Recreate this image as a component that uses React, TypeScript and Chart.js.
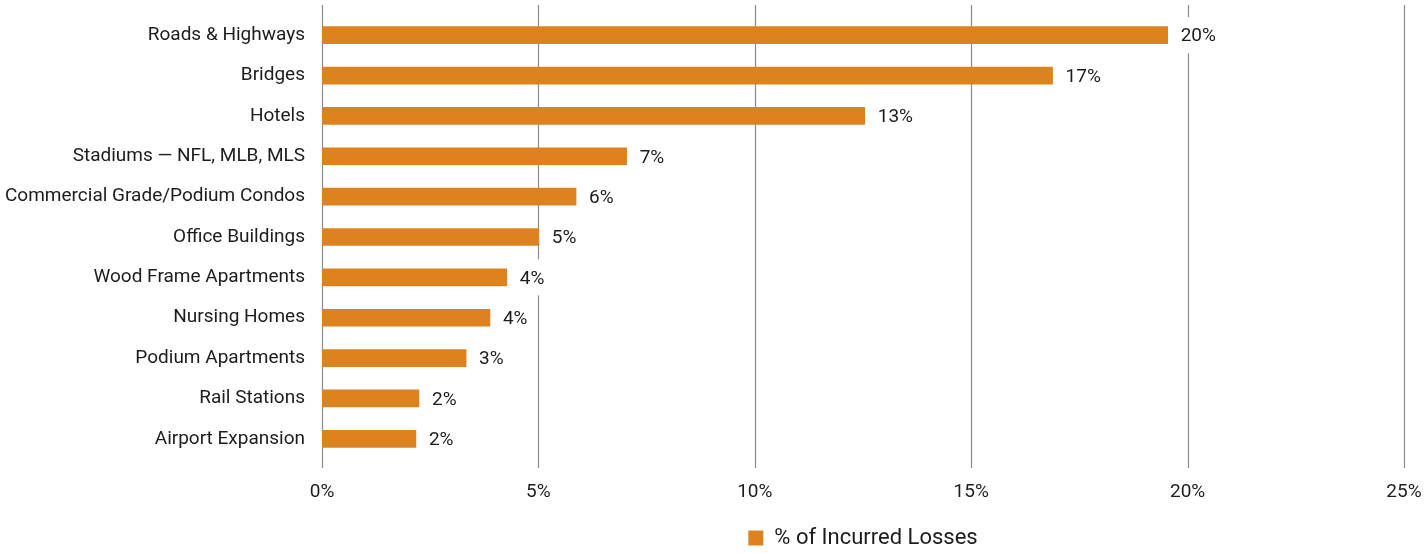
import React, { useEffect, useRef } from "react";
import { Chart, registerables } from "chart.js";

Chart.register(...registerables);

const categories = [
  "Roads & Highways",
  "Bridges",
  "Hotels",
  "Stadiums — NFL, MLB, MLS",
  "Commercial Grade/Podium Condos",
  "Office Buildings",
  "Wood Frame Apartments",
  "Nursing Homes",
  "Podium Apartments",
  "Rail Stations",
  "Airport Expansion",
];
const lossValues = [19.54, 16.88, 12.54, 7.04, 5.87, 5.01, 4.27, 3.88, 3.33, 2.24, 2.17];
const seriesName = "% of Incurred Losses";
const xMin = 0;
const xMax = 25;
const xStep = 5;

const FONT = "Roboto";
const TEXT = "#1c1c1c";
const BAR = "#DC8320";
const GRID = "#888b91";

const gridPlugin = {
  id: "customGrid",
  beforeDatasetsDraw(chart: any) {
    const { ctx, chartArea } = chart;
    const x = chart.scales.x;
    ctx.save();
    ctx.strokeStyle = GRID;
    ctx.lineWidth = 1.2;
    x.ticks.forEach((_t: any, i: number) => {
      const px = Math.round(x.getPixelForTick(i)) + 0.5;
      ctx.beginPath();
      ctx.moveTo(px, chartArea.top - 10);
      ctx.lineTo(px, chartArea.bottom + 9);
      ctx.stroke();
    });
    ctx.restore();
  },
};

const labelPlugin = {
  id: "valueLabels",
  afterDatasetsDraw(chart: any) {
    const { ctx } = chart;
    const meta = chart.getDatasetMeta(0);
    const data = chart.data.datasets[0].data as number[];
    ctx.save();
    ctx.font = `19px ${FONT}`;
    ctx.textBaseline = "middle";
    ctx.textAlign = "left";
    meta.data.forEach((bar: any, i: number) => {
      const text = `${Math.round(data[i])}%`;
      const tx = bar.x + 13;
      const w = ctx.measureText(text).width;
      ctx.fillStyle = "#ffffff";
      ctx.fillRect(tx - 3, bar.y - 18, w + 6, 36);
      ctx.fillStyle = TEXT;
      ctx.fillText(text, tx, bar.y + 1.5);
    });
    ctx.restore();
  },
};

export default function App() {
  const canvasRef = useRef<HTMLCanvasElement | null>(null);

  useEffect(() => {
    document.body.style.margin = "0";
    const canvas = canvasRef.current;
    if (!canvas) return;
    const chart = new Chart(canvas, {
      type: "bar",
      data: {
        labels: categories,
        datasets: [
          {
            label: seriesName,
            data: lossValues,
            backgroundColor: BAR,
            borderWidth: 0,
            barThickness: 17,
          },
        ],
      },
      options: {
        indexAxis: "y",
        animation: false,
        responsive: false,
        maintainAspectRatio: false,
        layout: { padding: { top: 15, right: 22, left: 0, bottom: -6 } },
        scales: {
          x: {
            min: xMin,
            max: xMax,
            grid: { display: false, drawTicks: false },
            border: { display: false },
            ticks: {
              stepSize: xStep,
              padding: 22,
              color: TEXT,
              font: { family: FONT, size: 19 },
              callback: (v: any) => `${v}%`,
            },
            afterFit: (scale: any) => {
              scale.height = 63;
              scale.paddingLeft = 0;
              scale.paddingRight = 0;
            },
          },
          y: {
            grid: { display: false, drawTicks: false },
            border: { display: false },
            ticks: {
              padding: 17,
              color: TEXT,
              font: { family: FONT, size: 19 },
              autoSkip: false,
            },
            afterFit: (scale: any) => {
              scale.width = 322;
              scale.paddingTop = 0;
              scale.paddingBottom = 0;
            },
          },
        },
        plugins: {
          legend: {
            position: "bottom",
            fullSize: false,
            labels: {
              boxWidth: 15,
              boxHeight: 15,
              padding: 5,
              color: TEXT,
              font: { family: FONT, size: 22 },
            },
          },
          tooltip: { enabled: false },
        },
      },
      plugins: [gridPlugin, labelPlugin],
    });
    return () => chart.destroy();
  }, []);

  return (
    <div style={{ width: 1426, height: 553, background: "#fff" }}>
      <canvas ref={canvasRef} width={1426} height={553} style={{ display: "block" }} />
    </div>
  );
}
